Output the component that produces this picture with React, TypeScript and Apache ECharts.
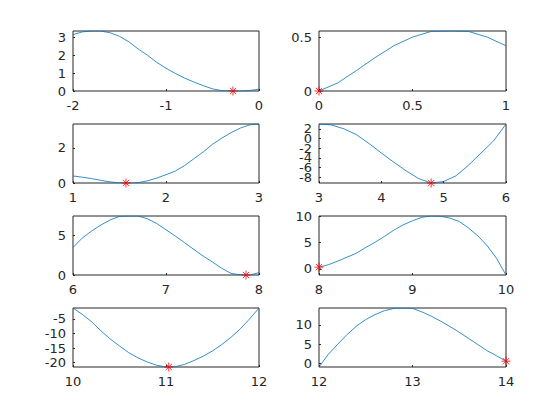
import React, { useEffect, useRef } from "react";
import * as echarts from "echarts";

// Panel 1
const x1 = [-2, -1.9, -1.8, -1.7, -1.6, -1.5, -1.4, -1.3, -1.2, -1.1, -1, -0.9, -0.8, -0.7, -0.6, -0.5, -0.4, -0.3, -0.2, -0.1, 0];
const y1 = [3.15, 3.3, 3.35, 3.35, 3.25, 3.05, 2.75, 2.35, 2.0, 1.6, 1.27, 0.98, 0.72, 0.5, 0.3, 0.12, 0.02, 0.0, 0.0, 0.03, 0.1];
// Panel 2
const x2 = [0, 0.1, 0.2, 0.3, 0.4, 0.5, 0.6, 0.7, 0.8, 0.9, 1];
const y2 = [0, 0.075, 0.19, 0.31, 0.42, 0.5, 0.553, 0.557, 0.553, 0.5, 0.42];
// Panel 3
const x3 = [1, 1.1, 1.2, 1.3, 1.4, 1.5, 1.6, 1.7, 1.8, 1.9, 2, 2.1, 2.2, 2.3, 2.4, 2.5, 2.6, 2.7, 2.8, 2.9, 3];
const y3 = [0.4, 0.33, 0.25, 0.15, 0.06, 0.01, 0.0, 0.02, 0.12, 0.28, 0.47, 0.68, 0.99, 1.38, 1.76, 2.2, 2.55, 2.86, 3.12, 3.3, 3.35];
// Panel 4
const x4 = [3, 3.2, 3.4, 3.6, 3.8, 4, 4.2, 4.4, 4.6, 4.8, 5, 5.2, 5.4, 5.6, 5.8, 6];
const y4 = [3.0, 2.8, 2.0, 0.8, -1.0, -3.0, -4.9, -6.7, -8.3, -9.2, -8.9, -7.7, -5.5, -3.0, -0.5, 3.0];
// Panel 5
const x5 = [6, 6.1, 6.2, 6.3, 6.4, 6.5, 6.6, 6.7, 6.8, 6.9, 7, 7.1, 7.2, 7.3, 7.4, 7.5, 7.6, 7.7, 7.8, 7.9, 8];
const y5 = [3.5, 4.7, 5.6, 6.35, 7.0, 7.45, 7.5, 7.5, 7.15, 6.55, 5.75, 4.95, 4.1, 3.25, 2.4, 1.65, 0.85, 0.2, 0.02, 0.0, 0.3];
// Panel 6
const x6 = [8, 8.1, 8.2, 8.3, 8.4, 8.5, 8.6, 8.7, 8.8, 8.9, 9, 9.1, 9.2, 9.3, 9.4, 9.5, 9.6, 9.7, 9.8, 9.9, 10];
const y6 = [0.35, 0.8, 1.5, 2.25, 3.0, 4.1, 5.1, 6.2, 7.4, 8.4, 9.2, 9.85, 10.1, 10.05, 9.7, 9.05, 7.8, 6.3, 4.4, 2.0, -1.15];
// Panel 7
const x7 = [10, 10.1, 10.2, 10.3, 10.4, 10.5, 10.6, 10.7, 10.8, 10.9, 11, 11.1, 11.2, 11.3, 11.4, 11.5, 11.6, 11.7, 11.8, 11.9, 12];
const y7 = [-1.3, -3.5, -6.0, -9.1, -11.9, -14.3, -16.6, -18.4, -19.8, -20.9, -21.5, -21.4, -20.6, -19.3, -17.8, -16.0, -13.8, -11.3, -8.4, -5.0, -1.3];
// Panel 8
const x8 = [12, 12.1, 12.2, 12.3, 12.4, 12.5, 12.6, 12.7, 12.8, 12.9, 13, 13.1, 13.2, 13.3, 13.4, 13.5, 13.6, 13.7, 13.8, 13.9, 14];
const y8 = [-0.9, 2.4, 5.0, 7.5, 9.7, 11.4, 12.7, 13.7, 14.3, 14.4, 14.3, 13.4, 12.3, 11.0, 9.6, 8.1, 6.5, 4.9, 3.3, 2.0, 0.6];

// Minimum markers
const starX = [-0.28, 0, 1.57, 4.8, 7.86, 8, 11.03, 14];
const starY = [0, 0, 0, -9.2, 0, 0.35, -21.5, 0.6];

// Axis ranges and tick labels
const xMins = [-2, 0, 1, 3, 6, 8, 10, 12];
const xMaxs = [0, 1, 3, 6, 8, 10, 12, 14];
const xSteps = [1, 0.5, 1, 1, 1, 1, 1, 1];
const yMins = [0, 0, 0, -9.2, 0, -1.15, -21.5, -0.9];
const yMaxs = [3.35, 0.557, 3.35, 3.0, 7.5, 10.1, -1.3, 14.4];
// Tick labels, split into two interleaved sets so that the crowded labels all stay visible
const yTicksA = [
  [0, 1, 2, 3],
  [0, 0.5],
  [0, 2],
  [-6, -2, 2],
  [0, 5],
  [0, 5, 10],
  [-20, -15, -10, -5],
  [0, 5, 10],
];
const yTicksB = [[], [], [], [-8, -4, 0], [], [], [], []];

const xs = [x1, x2, x3, x4, x5, x6, x7, x8];
const ys = [y1, y2, y3, y4, y5, y6, y7, y8];

const STAR = "path://M0,5L10,5M5,0L5,10M1.5,1.5L8.5,8.5M1.5,8.5L8.5,1.5";
const TXT = "#262626";
const FONT = "DejaVu Sans";

export default function App() {
  const ref = useRef<HTMLDivElement>(null);
  useEffect(() => {
    if (!ref.current) return;
    const chart = echarts.init(ref.current, undefined, { renderer: "svg" });
    const lefts = [73, 319];
    const widths = [186, 187];
    const tops = [31, 124, 216, 308];
    const heights = [60, 59, 59, 59];
    const grid: any[] = [];
    const xAxis: any[] = [];
    const yAxis: any[] = [];
    const series: any[] = [];
    const makeY = (i: number, ticks: number[]) => ({
      type: "value",
      gridIndex: i,
      position: "left",
      min: yMins[i],
      max: yMaxs[i],
      axisLine: { show: false, onZero: false },
      axisTick: {
        show: ticks.length > 0,
        inside: true,
        length: 2,
        lineStyle: { color: TXT },
        customValues: ticks,
      },
      splitLine: { show: false },
      axisLabel: {
        show: ticks.length > 0,
        color: TXT,
        fontSize: 13,
        fontFamily: FONT,
        margin: 7,
        customValues: ticks,
        hideOverlap: false,
        showMinLabel: true,
        showMaxLabel: true,
      },
    });
    for (let i = 0; i < 8; i++) {
      const col = i % 2;
      const row = Math.floor(i / 2);
      grid.push({
        left: lefts[col],
        top: tops[row],
        width: widths[col],
        height: heights[row],
        show: true,
        borderColor: TXT,
        borderWidth: 1,
        backgroundColor: "#fff",
        containLabel: false,
      });
      xAxis.push({
        type: "value",
        gridIndex: i,
        position: "bottom",
        min: xMins[i],
        max: xMaxs[i],
        interval: xSteps[i],
        axisLine: { show: false, onZero: false },
        axisTick: { show: true, inside: true, length: 2, lineStyle: { color: TXT } },
        splitLine: { show: false },
        axisLabel: {
          color: TXT,
          fontSize: 13,
          fontFamily: FONT,
          margin: 8,
          hideOverlap: false,
          showMinLabel: true,
          showMaxLabel: true,
        },
      });
      const yIdx = yAxis.length;
      yAxis.push(makeY(i, yTicksA[i]));
      if (yTicksB[i].length > 0) yAxis.push(makeY(i, yTicksB[i]));
      series.push({
        type: "line",
        xAxisIndex: i,
        yAxisIndex: yIdx,
        data: xs[i].map((x, k) => [x, ys[i][k]]),
        showSymbol: false,
        lineStyle: { color: "#0072BD", width: 0.8 },
        silent: true,
      });
      series.push({
        type: "scatter",
        xAxisIndex: i,
        yAxisIndex: yIdx,
        data: [[starX[i], starY[i]]],
        symbol: STAR,
        symbolSize: 9,
        clip: false,
        z: 5,
        itemStyle: { color: "rgba(0,0,0,0)", borderColor: "#FF0000", borderWidth: 1 },
      });
    }
    chart.setOption({
      animation: false,
      backgroundColor: "#fff",
      grid,
      xAxis,
      yAxis,
      series,
    });
    return () => chart.dispose();
  }, []);
  return (
    <div
      ref={ref}
      style={{ position: "absolute", left: 0, top: 0, width: 560, height: 420, background: "#fff" }}
    />
  );
}
